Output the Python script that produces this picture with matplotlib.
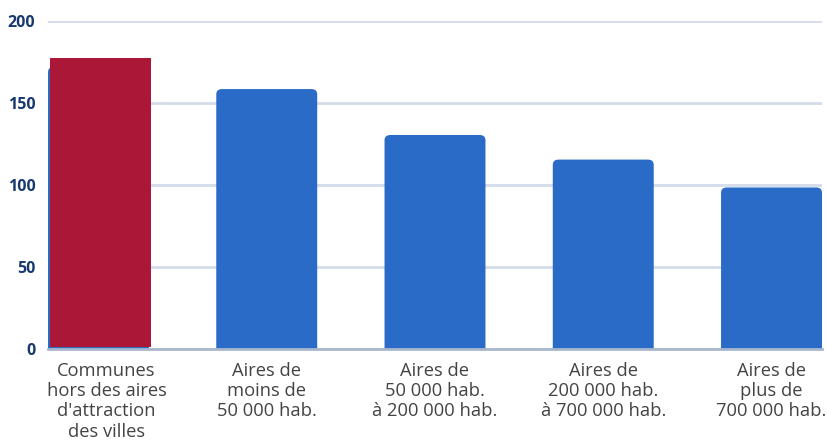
import matplotlib
matplotlib.use("Agg")
import matplotlib.pyplot as plt
import matplotlib.transforms as mtransforms
from matplotlib.patches import FancyBboxPatch

categories = [
    "Communes\nhors des aires\nd'attraction\ndes villes",
    "Aires de\nmoins de\n50 000 hab.",
    "Aires de\n50 000 hab.\nà 200 000 hab.",
    "Aires de\n200 000 hab.\nà 700 000 hab.",
    "Aires de\nplus de\n700 000 hab.",
]
values = [172, 158.5, 130.5, 115.5, 98.5]
highlight_value = 176.5
yticks = [0, 50, 100, 150, 200]

BLUE = "#2a6bc8"
RED = "#ab1737"

fig = plt.figure(figsize=(8.27, 4.45), dpi=100)
ax = fig.add_axes([48/827, 96/445, 774/827, 328/445])
ax.set_xlim(-0.3, 4.3)
ax.set_ylim(0, 200)

width = 0.6
bars = ax.bar(range(len(values)), values, width=width, color=BLUE)
r_x = 0.035
r_y = 3.2
for b in bars:
    x, y = b.get_x(), b.get_y()
    w, h = b.get_width(), b.get_height()
    b.set_visible(False)
    p = FancyBboxPatch((x, y - 10), w, h + 10,
                       boxstyle=f"round,pad=0,rounding_size={r_x}",
                       mutation_aspect=r_y / r_x,
                       facecolor=BLUE, edgecolor="none", zorder=2)
    ax.add_patch(p)

# highlighted first bar overlay
hb = ax.bar([0 + 0.012], [highlight_value], bottom=1.2, width=width, color=RED, zorder=3)

ax.set_yticks(yticks)
ax.set_yticklabels([str(t) for t in yticks], fontfamily="Open Sans",
                   fontweight="bold", fontsize=11.5, color="#17396e")
ax.tick_params(axis="y", length=0, pad=9)
ax.set_xticks(range(len(categories)))
labels = ax.set_xticklabels(categories, fontfamily="Open Sans", fontsize=13.2,
                            color="#444444", linespacing=1.17, va="top")
ax.tick_params(axis="x", length=0, pad=9)
# first label is nudged right so it does not cross the axis edge
labels[0].set_transform(labels[0].get_transform() +
                        mtransforms.ScaledTranslation(8/100, 0, fig.dpi_scale_trans))

ax.grid(axis="y", color="#d3dce8", linewidth=2, zorder=0)
ax.set_axisbelow(True)
for s in ["top", "right", "left"]:
    ax.spines[s].set_visible(False)
ax.spines["bottom"].set_color("#a8b8cc")
ax.spines["bottom"].set_linewidth(2)
ax.spines["bottom"].set_zorder(4)

fig.savefig("out.png", dpi=100)
